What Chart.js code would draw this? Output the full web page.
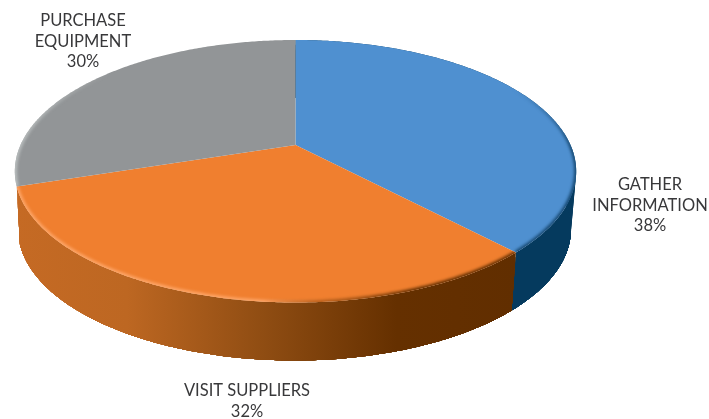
<!DOCTYPE html>
<html>
<head>
<meta charset="utf-8">
<style>
  html, body { margin: 0; padding: 0; background: #fff; }
  canvas { display: block; }
</style>
<script src="https://cdn.jsdelivr.net/npm/chart.js@4/dist/chart.umd.min.js"></script>
</head>
<body>
<canvas id="chart" width="709" height="419"></canvas>
<script>
const categories = ["GATHER INFORMATION", "VISIT SUPPLIERS", "PURCHASE EQUIPMENT"]
const values = [38, 32, 30]
const topColors = ["#4f90d0", "#f07f2f", "#929597"]
// the grey slice has no wall, it sits at the back of the disc
const sideStops = [
    [[0, "#053a5e"], [1, "#053a5e"]],
    [[0, "#c56a24"], [0.2, "#bd6722"], [0.45, "#8e4c12"], [0.68, "#653000"], [1, "#5f2d00"]],
    null,
]
// soft bevel along the outer edge of each top face: direction of the fade, then colours
const bevels = [
    { from: [0, 90], to: [0, 200], stops: [[0, "rgba(11,58,94,0)"], [0.55, "rgba(11,58,94,0.85)"], [1, "rgba(11,58,94,0.85)"]] },
    { from: [15, 0], to: [510, 0], stops: [[0, "rgba(255,170,110,0.9)"], [0.5, "rgba(255,170,110,0.9)"], [0.62, "rgba(140,72,14,0.6)"], [0.8, "rgba(95,45,0,1)"], [1, "rgba(95,45,0,1)"]] },
    { from: [15, 0], to: [110, 0], stops: [[0, "rgba(190,195,195,0.95)"], [1, "rgba(190,195,195,0)"]] },
]

// where each label sits: line centre x and the first baseline
const labelLayout = [
    { x: 650, y: 190, lines: ["GATHER", "INFORMATION"] },
    { x: 247, y: 396, lines: ["VISIT SUPPLIERS"] },
    { x: 83, y: 26, lines: ["PURCHASE", "EQUIPMENT"] },
]

// the disc is tilted in perspective, so the centre sits above the middle of the ellipse
const CX = 295.5, APEX_Y = 145, WIDE = 275, TALL = 97, TILT = 0.2
const DEPTH = 58, BASE_SCALE = 0.985, BASE_SHIFT = -1, WALL_LAYERS = 12

function project(angle, depth) {
    const x = Math.cos(angle), y = Math.sin(angle)
    const w = 1 - TILT * y
    const t = depth / DEPTH
    const s = 1 + (BASE_SCALE - 1) * t
    return [CX + BASE_SHIFT * t + s * WIDE * x / w, (APEX_Y + TALL * y) / w + depth]
}

function arcPoints(start, end, depth) {
    const pts = []
    const steps = Math.ceil((end - start) / 0.01)
    for (let i = 0; i <= steps; i++) {
        pts.push(project(start + (end - start) * i / steps, depth))
    }
    return pts
}

function tracePoly(ctx, pts, open) {
    ctx.beginPath()
    pts.forEach((p, i) => i ? ctx.lineTo(p[0], p[1]) : ctx.moveTo(p[0], p[1]))
    if (!open) ctx.closePath()
}

const tiltedPie = {
    id: "tiltedPie",
    beforeDatasetsDraw(chart) {
        const ctx = chart.ctx
        const arcs = chart.getDatasetMeta(0).data

        // side wall first, the top faces cover whatever is at the back
        arcs.forEach((arc, i) => {
            if (!sideStops[i]) return
            const grad = ctx.createLinearGradient(15, 0, 576, 0)
            sideStops[i].forEach(s => grad.addColorStop(s[0], s[1]))
            ctx.fillStyle = grad
            const base = arcPoints(arc.startAngle, arc.endAngle, DEPTH).reverse()
            // stacked layers so the outline runs straight from the top edge to the base
            for (let d = 0; d < WALL_LAYERS; d++) {
                const layer = arcPoints(arc.startAngle, arc.endAngle, DEPTH * d / WALL_LAYERS)
                tracePoly(ctx, layer.concat(base))
                ctx.fill()
            }
        })

        arcs.forEach((arc, i) => {
            const rim = arcPoints(arc.startAngle, arc.endAngle, 0)
            ctx.save()
            tracePoly(ctx, [[CX, APEX_Y]].concat(rim))
            ctx.fillStyle = topColors[i]
            ctx.fill()
            ctx.clip()
            const b = bevels[i]
            const edge = ctx.createLinearGradient(b.from[0], b.from[1], b.to[0], b.to[1])
            b.stops.forEach(s => edge.addColorStop(s[0], s[1]))
            ctx.filter = "blur(1.5px)"
            tracePoly(ctx, rim, true)
            ctx.strokeStyle = edge
            ctx.lineWidth = 4
            ctx.stroke()
            ctx.restore()
        })

        return false
    },
    afterDraw(chart) {
        const ctx = chart.ctx
        ctx.save()
        ctx.fillStyle = "#38383a"
        ctx.font = "400 16.5px Lato"
        ctx.textAlign = "center"
        ctx.textBaseline = "alphabetic"
        labelLayout.forEach((label, i) => {
            const lines = label.lines.concat(values[i] + "%")
            lines.forEach((line, j) => ctx.fillText(line, label.x, label.y + j * 20.5))
        })
        ctx.restore()
    },
}

new Chart(document.getElementById("chart"), {
    type: "pie",
    data: {
        labels: categories,
        datasets: [{ data: values, backgroundColor: topColors, borderWidth: 0 }],
    },
    options: {
        responsive: false,
        animation: false,
        plugins: { legend: { display: false }, tooltip: { enabled: false } },
    },
    plugins: [tiltedPie],
})
</script>
</body>
</html>
